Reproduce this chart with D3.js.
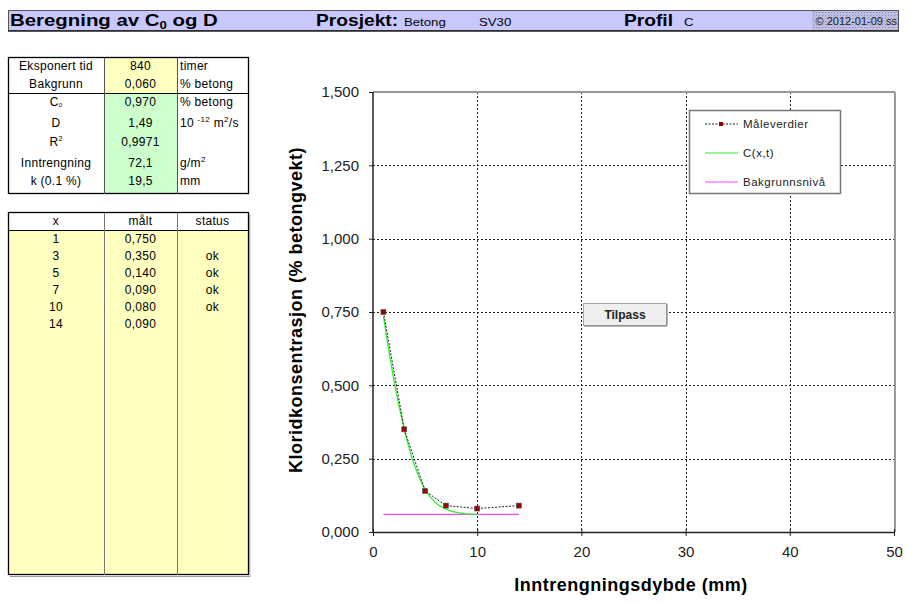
<!DOCTYPE html>
<html>
<head>
<meta charset="utf-8">
<script src="https://cdn.jsdelivr.net/npm/d3@7"></script>
<style>
  html, body { margin: 0; padding: 0; background: #ffffff; }
  svg { display: block; font-family: "Liberation Sans", Arial, sans-serif; }
</style>
</head>
<body>
<svg id="sheet" width="907" height="604"></svg>
<script>
// ---- Input / results ----
const exposureHours = 840;
const backgroundLevel = 0.060;
const surfaceConc = 0.970;
const diffusion = 1.49;
const rSquared = 0.9971;
const penetration = 72.1;
const depthAt01 = 19.5;

// ---- Measured profile ----
const depth = [1, 3, 5, 7, 10, 14];
const measured = [0.750, 0.350, 0.140, 0.090, 0.080, 0.090];
const status = ["", "ok", "ok", "ok", "ok", ""];

// ---- Fitted curve C(x,t) ----
const fitDepth = [1, 2, 3, 4, 5, 6, 7, 8, 9, 10];
const fitConc = [0.735, 0.520, 0.350, 0.225, 0.145, 0.100, 0.078, 0.067, 0.062, 0.060];

// ---- Background level line ----
const bgDepth = [1, 14];

// ---- Axes ----
const xTicks = [0, 10, 20, 30, 40, 50];
const yTicks = [0, 0.25, 0.5, 0.75, 1.0, 1.25, 1.5];

const legendLabels = ["Måleverdier", "C(x,t)", "Bakgrunnsnivå"];

const no = d3.formatLocale({decimal: ",", thousands: " ", grouping: [3], currency: ["", ""]});
const f3 = no.format(".3f"), f2 = no.format(".2f"), f4 = no.format(".4f"), f1 = no.format(".1f");

const svg = d3.select("#sheet");

// ---------- Title bar ----------
const defs = svg.append("defs");
const pat = defs.append("pattern").attr("id", "dots").attr("width", 3).attr("height", 3)
  .attr("patternUnits", "userSpaceOnUse");
pat.append("rect").attr("width", 3).attr("height", 3).attr("fill", "#c8c8ff");
pat.append("rect").attr("x", 0).attr("y", 0).attr("width", 1.2).attr("height", 1.2).attr("fill", "#8a8a8a");
pat.append("rect").attr("x", 1.5).attr("y", 1.5).attr("width", 1.2).attr("height", 1.2).attr("fill", "#a0a0a0");

const bar = svg.append("g");
bar.append("rect").attr("x", 8.5).attr("y", 10.5).attr("width", 890).attr("height", 20)
  .attr("fill", "#c8c8ff").attr("stroke", "#555").attr("stroke-width", 1);
bar.append("rect").attr("x", 812).attr("y", 11).attr("width", 86).attr("height", 19).attr("fill", "url(#dots)");
bar.append("line").attr("x1", 8).attr("x2", 899).attr("y1", 31).attr("y2", 31).attr("stroke", "#222").attr("stroke-width", 1.5);

// header texts are drawn slightly widened
function headText(x, size, bold) {
  return bar.append("text").attr("transform", `translate(${x},26) scale(1.2,1)`)
    .attr("font-size", size).attr("font-weight", bold ? "bold" : "normal").attr("fill", "#000");
}
const t1 = headText(10, 17, true);
t1.append("tspan").text("Beregning av C");
t1.append("tspan").attr("font-size", 11).attr("dy", 3).text("0");
t1.append("tspan").attr("dy", -3).text(" og D");
headText(316, 16, true).text("Prosjekt:");
headText(404, 11, false).text("Betong");
headText(479, 11, false).text("SV30");
headText(624, 16, true).text("Profil");
headText(684, 11, false).text("C");
bar.append("text").attr("x", 897).attr("y", 25).attr("font-size", 11).attr("text-anchor", "end")
  .attr("fill", "#222").text("© 2012-01-09 ss");

// ---------- Parameter table ----------
const colX = [8, 104, 177, 248];
const p = svg.append("g").attr("font-size", 12).attr("letter-spacing", 0.3).attr("fill", "#000");
p.append("rect").attr("x", colX[1]).attr("y", 58).attr("width", colX[2] - colX[1]).attr("height", 35).attr("fill", "#ffffc0");
p.append("rect").attr("x", colX[1]).attr("y", 93).attr("width", colX[2] - colX[1]).attr("height", 101).attr("fill", "#ccffcc");
p.append("rect").attr("x", colX[0] + 0.5).attr("y", 57.5).attr("width", colX[3] - colX[0]).attr("height", 136)
  .attr("fill", "none").attr("stroke", "#000").attr("stroke-width", 1.3);
p.append("line").attr("x1", colX[0]).attr("x2", colX[3]).attr("y1", 93.5).attr("y2", 93.5).attr("stroke", "#000");
[colX[1], colX[2]].forEach(x => p.append("line").attr("x1", x + 0.5).attr("x2", x + 0.5).attr("y1", 58).attr("y2", 194).attr("stroke", "#555"));

const paramRows = [
  {label: "Eksponert tid", value: String(exposureHours), unit: [["timer"]]},
  {label: "Bakgrunn", value: f3(backgroundLevel), unit: [["% betong"]]},
  {label: "C0", value: f3(surfaceConc), unit: [["% betong"]]},
  {label: "D", value: f2(diffusion), unit: [["10 "], ["-12", "sup"], [" m"], ["2", "sup"], ["/s"]]},
  {label: "R2", value: f4(rSquared), unit: [[""]]},
  {label: "Inntrengning", value: f1(penetration), unit: [["g/m"], ["2", "sup"]]},
  {label: "k (0.1 %)", value: f1(depthAt01), unit: [["mm"]]}
];
const rowY = [70, 88, 106, 127, 146, 167, 185];
paramRows.forEach((r, i) => {
  const lt = p.append("text").attr("x", (colX[0] + colX[1]) / 2).attr("y", rowY[i]).attr("text-anchor", "middle");
  if (r.label === "C0") {
    lt.append("tspan").text("C");
    lt.append("tspan").attr("font-size", 6).attr("dy", 1).text("0");
  } else if (r.label === "R2") {
    lt.append("tspan").text("R");
    lt.append("tspan").attr("font-size", 7).attr("dy", -5).text("2");
  } else lt.text(r.label);
  p.append("text").attr("x", (colX[1] + colX[2]) / 2).attr("y", rowY[i]).attr("text-anchor", "middle").text(r.value);
  const ut = p.append("text").attr("x", colX[2] + 3).attr("y", rowY[i]);
  let up = false;
  r.unit.forEach(([s, kind]) => {
    const ts = ut.append("tspan").text(s);
    if (kind === "sup" && !up) { ts.attr("font-size", 8).attr("dy", -5); up = true; }
    else if (!kind && up) { ts.attr("dy", 5); up = false; }
    else if (kind === "sup") ts.attr("font-size", 8);
  });
});

// ---------- Measured values table ----------
const m = svg.append("g").attr("font-size", 12).attr("letter-spacing", 0.3).attr("fill", "#000");
m.append("rect").attr("x", colX[0]).attr("y", 230).attr("width", colX[3] - colX[0]).attr("height", 345).attr("fill", "#ffffc0");
m.append("rect").attr("x", colX[0] + 0.5).attr("y", 212.5).attr("width", colX[3] - colX[0]).attr("height", 362)
  .attr("fill", "none").attr("stroke", "#000").attr("stroke-width", 1.3);
m.append("line").attr("x1", colX[0]).attr("x2", colX[3]).attr("y1", 230.5).attr("y2", 230.5).attr("stroke", "#000");
[colX[1], colX[2]].forEach(x => m.append("line").attr("x1", x + 0.5).attr("x2", x + 0.5).attr("y1", 213).attr("y2", 575).attr("stroke", "#777"));
// shadow
m.append("line").attr("x1", colX[0] + 2).attr("x2", colX[3] + 2).attr("y1", 576.5).attr("y2", 576.5).attr("stroke", "#999");
m.append("line").attr("x1", colX[3] + 1.8).attr("x2", colX[3] + 1.8).attr("y1", 214).attr("y2", 577).attr("stroke", "#999");
const cx = [(colX[0] + colX[1]) / 2, (colX[1] + colX[2]) / 2, (colX[2] + colX[3]) / 2];
["x", "målt", "status"].forEach((h, i) => m.append("text").attr("x", cx[i]).attr("y", 225).attr("text-anchor", "middle").text(h));
depth.forEach((d, i) => {
  const y = 243 + i * 17;
  m.append("text").attr("x", cx[0]).attr("y", y).attr("text-anchor", "middle").text(d);
  m.append("text").attr("x", cx[1]).attr("y", y).attr("text-anchor", "middle").text(f3(measured[i]));
  m.append("text").attr("x", cx[2]).attr("y", y).attr("text-anchor", "middle").text(status[i]);
});

// ---------- Chart ----------
const plot = {left: 373, right: 894, top: 92, bottom: 532};
const x = d3.scaleLinear().domain([0, 50]).range([plot.left, plot.right]);
const y = d3.scaleLinear().domain([0, 1.5]).range([plot.bottom, plot.top]);
const c = svg.append("g");

// grid
c.append("g").selectAll("line").data(yTicks.slice(1, -1)).join("line")
  .attr("x1", plot.left).attr("x2", plot.right).attr("y1", d => Math.round(y(d)) + 0.5).attr("y2", d => Math.round(y(d)) + 0.5)
  .attr("stroke", "#222").attr("stroke-dasharray", "2,2");
c.append("g").selectAll("line").data(xTicks.slice(1, -1)).join("line")
  .attr("y1", plot.top).attr("y2", plot.bottom).attr("x1", d => Math.round(x(d)) + 0.5).attr("x2", d => Math.round(x(d)) + 0.5)
  .attr("stroke", "#222").attr("stroke-dasharray", "2,2");
// top / right frame
c.append("line").attr("x1", plot.left).attr("x2", plot.right + 1).attr("y1", plot.top).attr("y2", plot.top).attr("stroke", "#999").attr("stroke-width", 2);
c.append("line").attr("x1", plot.right + 1).attr("x2", plot.right + 1).attr("y1", plot.top).attr("y2", plot.bottom).attr("stroke", "#999").attr("stroke-width", 2);

// axes
const yAxis = d3.axisLeft(y).tickValues(yTicks).tickFormat(f3).tickSize(4).tickPadding(10);
const gy = c.append("g").attr("transform", `translate(${plot.left},0)`).call(yAxis);
const xAxis = d3.axisBottom(x).tickValues(xTicks).tickFormat(d3.format("d")).tickSizeInner(4).tickSizeOuter(0).tickPadding(8);
const gx = c.append("g").attr("transform", `translate(0,${plot.bottom})`).call(xAxis);
gx.selectAll(".tick line").attr("y1", -3);
[gx, gy].forEach(g => {
  g.select(".domain").attr("stroke", "#222").attr("stroke-width", 1.5);
  g.selectAll(".tick line").attr("stroke", "#222");
  g.selectAll("text").attr("font-size", 15).attr("fill", "#222").attr("font-family", "Liberation Sans, Arial, sans-serif");
});
gy.select(".domain").attr("d", `M0,${plot.bottom}V${plot.top}`);
gx.selectAll("text").attr("dy", "0.85em");

// axis titles
c.append("text").attr("transform", "translate(302,310) rotate(-90)").attr("text-anchor", "middle")
  .attr("font-size", 18).attr("letter-spacing", 0.5).attr("font-weight", "bold").text("Kloridkonsentrasjon (% betongvekt)");
c.append("text").attr("x", 631).attr("y", 591).attr("text-anchor", "middle")
  .attr("font-size", 18).attr("letter-spacing", 0.5).attr("font-weight", "bold").text("Inntrengningsdybde (mm)");

// background level
c.append("path").datum(bgDepth)
  .attr("d", d3.line().x(d => x(d)).y(() => y(backgroundLevel)))
  .attr("stroke", "#ff44ff").attr("stroke-width", 1.2).attr("fill", "none");

// fitted curve
c.append("path").datum(fitDepth.map((d, i) => [d, fitConc[i]]))
  .attr("d", d3.line().x(d => x(d[0])).y(d => y(d[1])).curve(d3.curveMonotoneX))
  .attr("stroke", "#33ee33").attr("stroke-width", 1.3).attr("fill", "none");

// measured values
const pts = depth.map((d, i) => [d, measured[i]]);
c.append("path").datum(pts)
  .attr("d", d3.line().x(d => x(d[0])).y(d => y(d[1])))
  .attr("stroke", "#222").attr("stroke-width", 1).attr("stroke-dasharray", "2,1.5").attr("fill", "none");
c.append("g").selectAll("rect").data(pts).join("rect")
  .attr("x", d => x(d[0]) - 2.5).attr("y", d => y(d[1]) - 2.5).attr("width", 5).attr("height", 5)
  .attr("fill", "#990000").attr("stroke", "#555").attr("stroke-width", 0.6);

// fit button
const btn = c.append("g");
btn.append("rect").attr("x", 583.5).attr("y", 303.5).attr("width", 83).attr("height", 22)
  .attr("fill", "#efefef").attr("stroke", "#aaa");
btn.append("line").attr("x1", 584).attr("x2", 667).attr("y1", 326).attr("y2", 326).attr("stroke", "#777");
btn.append("line").attr("x1", 667).attr("x2", 667).attr("y1", 304).attr("y2", 326).attr("stroke", "#777");
btn.append("text").attr("x", 625).attr("y", 319).attr("text-anchor", "middle").attr("font-size", 12).attr("font-weight", "bold")
  .attr("fill", "#222").text("Tilpass");

// legend
const lg = c.append("g");
lg.append("rect").attr("x", 689.5).attr("y", 110.5).attr("width", 151).attr("height", 83)
  .attr("fill", "#fff").attr("stroke", "#777").attr("stroke-width", 1.5);
const legY = [124, 153, 182];
legendLabels.forEach((lab, i) => {
  const yy = legY[i];
  const ln = lg.append("line").attr("x1", 705).attr("x2", 738).attr("y1", yy).attr("y2", yy);
  if (i === 0) {
    ln.attr("stroke", "#222").attr("stroke-dasharray", "2,1.5");
    lg.append("rect").attr("x", 719).attr("y", yy - 2).attr("width", 4).attr("height", 4).attr("fill", "#990000");
  } else ln.attr("stroke", i === 1 ? "#33ee33" : "#ff44ff").attr("stroke-width", 1.2);
  lg.append("text").attr("x", 743).attr("y", yy + 4).attr("font-size", 11.5).attr("letter-spacing", 0.5)
    .attr("fill", "#222").text(lab);
});
</script>
</body>
</html>
